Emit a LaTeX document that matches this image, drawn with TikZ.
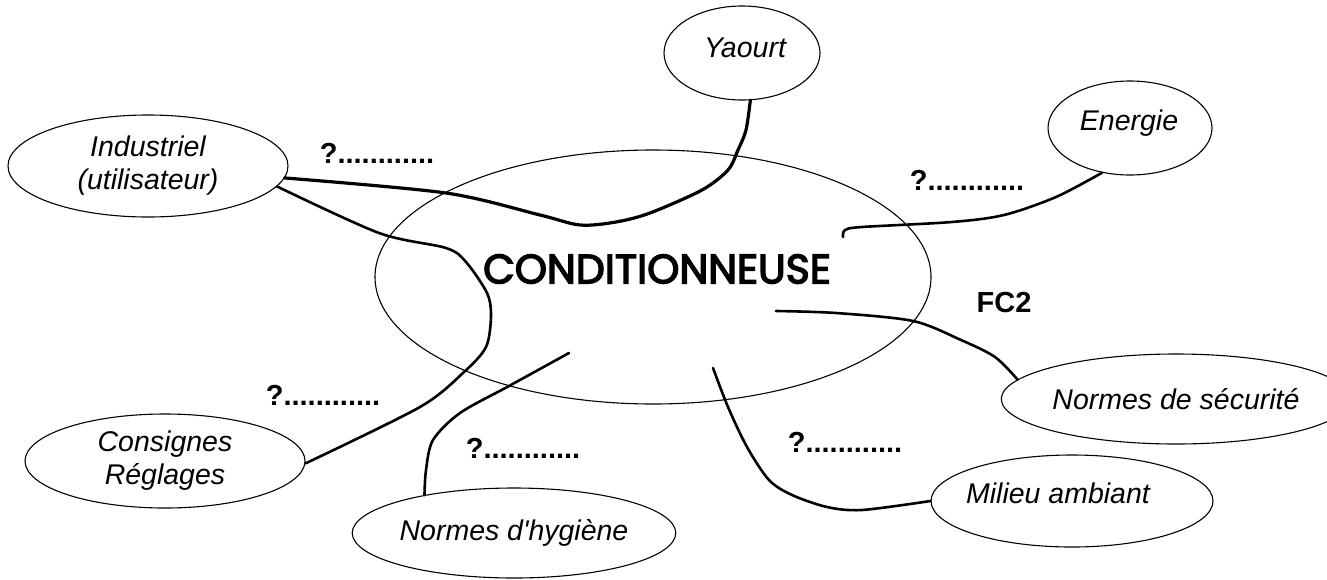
\documentclass[tikz,border=0pt]{standalone}
\usepackage{fontspec}
\setmainfont{Liberation Sans}
\newfontfamily\futura[FakeBold=3.5]{Poppins}
\usetikzlibrary{shapes.geometric}
\tikzset{
  oval/.style={draw, ellipse, line width=1.1pt, inner sep=0pt, font=\fontsize{28.5}{33}\selectfont\itshape, align=center},
  link/.style={line width=2.6pt, line cap=round, line join=round},
  qlabel/.style={font=\fontsize{29}{33}\selectfont\bfseries, inner sep=0pt},
}
\begin{document}
\begin{tikzpicture}[x=1pt,y=-1pt]
\useasboundingbox (0,0) rectangle (1327,579);
% nodes
\node[draw, ellipse, line width=1.1pt, minimum width=556pt, minimum height=254pt, inner sep=0pt] (machine) at (653,277) {};
\node[font=\futura\fontsize{41}{45}\selectfont, inner sep=0pt] (title) at (657,269) {CONDITIONNEUSE};
\node[oval, minimum width=280pt, minimum height=102pt] (ind) at (148,166) {Industriel\\(utilisateur)};
\node[oval, minimum width=156pt, minimum height=94pt] (yao) at (742,53) {};
\node[font=\fontsize{28.5}{33}\selectfont\itshape, inner sep=0pt] (yaotext) at (745,48) {Yaourt};
\node[oval, minimum width=164pt, minimum height=94pt] (ene) at (1130,128) {};
\node[font=\fontsize{28.5}{33}\selectfont\itshape, inner sep=0pt] (enetext) at (1129,123) {Energie};
\node[oval, minimum width=280pt, minimum height=94pt] (con) at (165,461) {Consignes\\Réglages};
\node[oval, minimum width=280pt, minimum height=90pt] (hyg) at (514,533) {Normes d\textquotesingle hygiène};
\node[oval, minimum width=290pt, minimum height=90pt] (sec) at (1176,399) {Normes de sécurité};
\node[oval, minimum width=282pt, minimum height=92pt] (mil) at (1072,501) {};
\node[font=\fontsize{28.5}{33}\selectfont\itshape, inner sep=0pt] (miltext) at (1058,493) {Milieu ambiant};
% labels
\node[qlabel] (q1) at (377,153) {?............};
\node[qlabel] (q2) at (967,180) {?............};
\node[qlabel] (q3) at (323,395) {?............};
\node[qlabel] (q4) at (523,448) {?............};
\node[qlabel] (q5) at (845,442) {?............};
\node[qlabel] (fc2) at (1004,303) {FC2};
% free ends
\coordinate (eneend) at (843,237);
\coordinate (hygend) at (569,353);
\coordinate (secend) at (776,311);
\coordinate (milend) at (713,368);
% connectors
\draw[link, line width=3.2pt] plot[smooth, tension=0.5] coordinates {(ind.-5) (446,193) (540,215) (580,225) (616,222) (650,213) (702,190) (728,170) (738,150) (746,130) (yao.-80)};
\draw[link] plot[smooth, tension=0.5] coordinates {(ind.-9) (379,233) (446,248) (466,262) (487,293) (491,316) (486,347) (464,372) (420,407) (con.-1)};
\draw[link] plot[smooth, tension=0.5] coordinates {(ene.238) (1056,197) (1004,215) (952,222) (862,227) (845,230) (eneend)};
\draw[link] plot[smooth, tension=0.5] coordinates {(hygend) (509,386) (460,413) (433,440) (426,470) (hyg.157)};
\draw[link] plot[smooth, tension=0.5] coordinates {(secend) (836,313) (913,321) (961,340) (995,357) (sec.173)};
\draw[link] plot[smooth, tension=0.5] coordinates {(milend) (728,407) (747,447) (769,480) (792,495) (827,507) (862,510) (mil.west)};
\end{tikzpicture}
\end{document}
